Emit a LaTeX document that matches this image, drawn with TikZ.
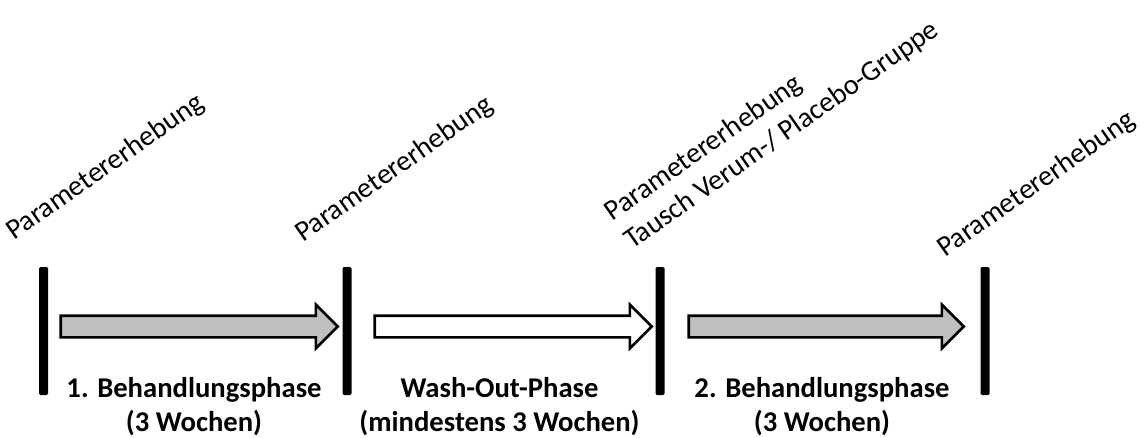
\documentclass[tikz,border=0pt]{standalone}
\usepackage{fontspec}
\setmainfont{Carlito}
\usetikzlibrary{shapes.arrows, positioning}
\tikzstyle{bar} = [rectangle, fill=black, minimum width=0.18cm, minimum height=2.56cm, inner sep=0pt, rounded corners=0.8pt]
\tikzstyle{phase} = [single arrow, draw=black, line width=1.5pt, inner xsep=0pt, inner ysep=0.19cm, text height=0pt, text depth=0pt, single arrow head extend=0.22cm, single arrow tip angle=90, anchor=west]
\tikzstyle{param} = [anchor=base west, rotate=35, inner sep=0pt, align=left, font=\fontsize{16.3}{19.5}\selectfont]
\tikzstyle{phaselabel} = [inner sep=0pt, align=center, font=\bfseries\fontsize{16.3}{19.4}\selectfont]

\begin{document}
\begin{tikzpicture}
\useasboundingbox (0,0) rectangle (22.8,8.74);

% Zeitpunkte
\node (bar1) [bar] at (0.87,2.12) {};
\node (bar2) [bar] at (6.94,2.12) {};
\node (bar3) [bar] at (13.2,2.12) {};
\node (bar4) [bar] at (19.7,2.12) {};

% Phasen
\node (arr1) [phase, fill=black!25, minimum height=5.54cm, right=0.22cm of bar1, yshift=0.09cm] {};
\node (arr2) [phase, fill=white, minimum height=5.54cm, right=0.43cm of bar2, yshift=0.09cm] {};
\node (arr3) [phase, fill=black!25, minimum height=5.5cm, right=0.45cm of bar3, yshift=0.09cm] {};

% Beschriftung
\node (lbl1) [phaselabel, anchor=south] at (3.88,0.02) {1. Behandlungsphase\\(3 Wochen)};
\node (lbl2) [phaselabel, anchor=south] at (9.99,0.02) {Wash-Out-Phase\\(mindestens 3 Wochen)};
\node (lbl3) [phaselabel, anchor=south] at (16.44,0.02) {2. Behandlungsphase\\(3 Wochen)};

\node (par1) [param] at (0.28,3.92) {Parametererhebung};
\node (par2) [param] at (6.06,3.88) {Parametererhebung};
\node (par3) [param] at (12.64,3.74) {Parametererhebung\\Tausch Verum-/ Placebo-Gruppe};
\node (par4) [param] at (18.9,3.58) {Parametererhebung};

\end{tikzpicture}
\end{document}
